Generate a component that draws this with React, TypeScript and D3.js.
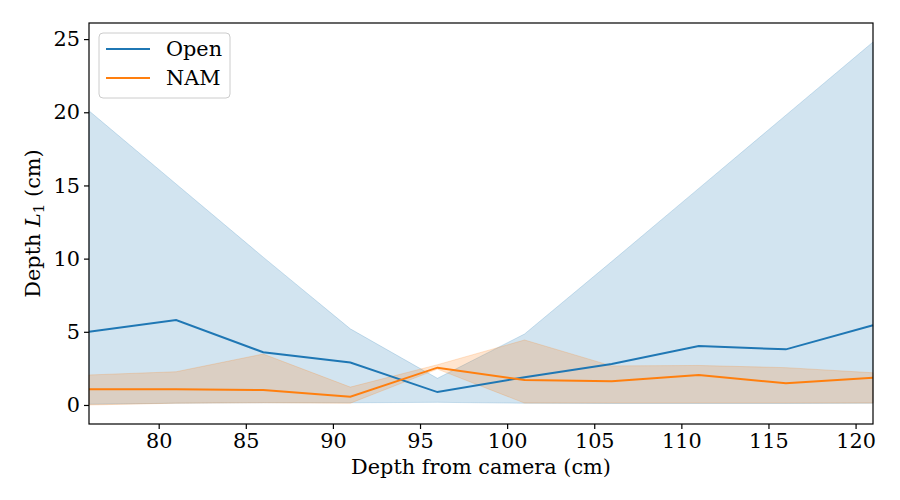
import { useEffect, useRef } from "react"
import * as d3 from "d3"

// Depth from camera (cm)
const depths = [76, 81, 86, 91, 96, 101, 106, 111, 116, 121]

// Open: mean and band
const openMean = [5.0, 5.8, 3.6, 2.9, 0.88, 1.9, 2.8, 4.03, 3.8, 5.45]
const openUpper = [20.1, 15.1, 10.1, 5.2, 1.82, 4.85, 9.8, 14.8, 19.8, 24.8]
const openLower = [0.05, 0.12, 0.15, 0.15, 0.18, 0.12, 0.1, 0.1, 0.1, 0.12]

// NAM: mean and band
const namMean = [1.07, 1.07, 1.02, 0.57, 2.55, 1.7, 1.62, 2.05, 1.48, 1.86]
const namUpper = [2.05, 2.27, 3.48, 1.22, 2.75, 4.44, 2.67, 2.7, 2.55, 2.2]
const namLower = [0.0, 0.12, 0.15, 0.12, 2.45, 0.13, 0.13, 0.13, 0.13, 0.13]

const xTicks = [80, 85, 90, 95, 100, 105, 110, 115, 120]
const yTicks = [0, 5, 10, 15, 20, 25]

const series = [
  { name: "Open", color: "#1f77b4", mean: openMean, upper: openUpper, lower: openLower },
  { name: "NAM", color: "#ff7f0e", mean: namMean, upper: namUpper, lower: namLower },
]

export default function App() {
  const svgRef = useRef<SVGSVGElement>(null)

  useEffect(() => {
    if (!svgRef.current) return
    const svg = d3.select(svgRef.current)
    svg.selectAll("*").remove()

    const width = 900
    const height = 500
    const m = { left: 89, right: 27, top: 23, bottom: 76 }
    const font = "DejaVu Serif"
    const fs = 20.8

    const x = d3.scaleLinear().domain([76, 121]).range([m.left, width - m.right])
    const y = d3.scaleLinear().domain([-1.3, 26.1]).range([height - m.bottom, m.top])

    const g = svg.append("g")

    // Bands
    series.forEach((s) => {
      const area = d3
        .area<number>()
        .x((_, i) => x(depths[i]))
        .y0((_, i) => y(s.lower[i]))
        .y1((_, i) => y(s.upper[i]))
      g.append("path")
        .attr("d", area(s.mean))
        .attr("fill", s.color)
        .attr("fill-opacity", 0.2)
        .attr("stroke", s.color)
        .attr("stroke-opacity", 0.2)
        .attr("stroke-width", 1)
    })

    // Mean lines
    series.forEach((s) => {
      const line = d3
        .line<number>()
        .x((_, i) => x(depths[i]))
        .y((d) => y(d))
      g.append("path")
        .attr("d", line(s.mean))
        .attr("fill", "none")
        .attr("stroke", s.color)
        .attr("stroke-width", 2)
    })

    // Frame
    svg
      .append("rect")
      .attr("x", m.left)
      .attr("y", m.top)
      .attr("width", width - m.left - m.right)
      .attr("height", height - m.top - m.bottom)
      .attr("fill", "none")
      .attr("stroke", "black")
      .attr("stroke-width", 1.2)

    // X axis
    const xAxis = svg
      .append("g")
      .attr("transform", `translate(0,${height - m.bottom})`)
      .call(d3.axisBottom(x).tickValues(xTicks).tickSize(5).tickPadding(4))
    xAxis.select(".domain").remove()
    xAxis.selectAll("line").attr("stroke", "black").attr("stroke-width", 1.2)
    xAxis.selectAll("text").attr("font-family", font).attr("font-size", fs).attr("fill", "black")

    // Y axis
    const yAxis = svg
      .append("g")
      .attr("transform", `translate(${m.left},0)`)
      .call(d3.axisLeft(y).tickValues(yTicks).tickSize(5).tickPadding(4))
    yAxis.select(".domain").remove()
    yAxis.selectAll("line").attr("stroke", "black").attr("stroke-width", 1.2)
    yAxis.selectAll("text").attr("font-family", font).attr("font-size", fs).attr("fill", "black")

    // Axis labels
    svg
      .append("text")
      .attr("x", (m.left + width - m.right) / 2)
      .attr("y", 474)
      .attr("text-anchor", "middle")
      .attr("font-family", font)
      .attr("font-size", fs)
      .text("Depth from camera (cm)")

    const yl = svg
      .append("text")
      .attr("transform", `translate(40,${(m.top + height - m.bottom) / 2}) rotate(-90)`)
      .attr("text-anchor", "middle")
      .attr("font-family", font)
      .attr("font-size", fs)
    yl.append("tspan").text("Depth ")
    yl.append("tspan").attr("font-style", "italic").text("L")
    yl.append("tspan").attr("font-size", 15).attr("dy", 4).text("1")
    yl.append("tspan").attr("dy", -4).text(" (cm)")

    // Legend
    const lg = svg.append("g").attr("transform", "translate(99,33)")
    lg.append("rect")
      .attr("width", 131)
      .attr("height", 65)
      .attr("rx", 4)
      .attr("fill", "white")
      .attr("fill-opacity", 0.8)
      .attr("stroke", "#cccccc")
      .attr("stroke-width", 1)
    series.forEach((s, i) => {
      const row = lg.append("g").attr("transform", `translate(0,${16 + i * 29})`)
      row.append("line").attr("x1", 7).attr("x2", 51).attr("stroke", s.color).attr("stroke-width", 2)
      row
        .append("text")
        .attr("x", 67)
        .attr("dy", "0.35em")
        .attr("font-family", font)
        .attr("font-size", fs)
        .text(s.name)
    })
  }, [])

  return <svg ref={svgRef} width={900} height={500} style={{ display: "block", margin: -8 }} />
}
